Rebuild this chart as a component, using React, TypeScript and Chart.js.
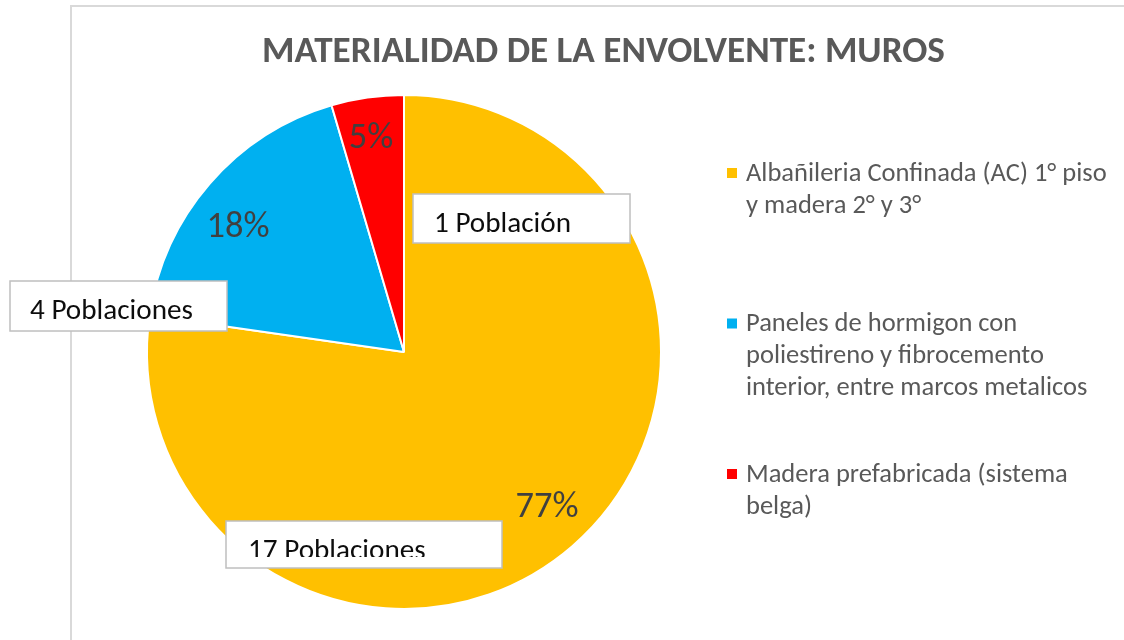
import React, { useEffect, useRef } from "react";
import { Chart, registerables } from "chart.js";
Chart.register(...registerables);

// ---------- data ----------
const TITLE = "MATERIALIDAD DE LA ENVOLVENTE: MUROS";
const categories: string[][] = [
  ["Albañileria Confinada (AC) 1° piso", "y madera 2° y 3°"],
  ["Paneles de hormigon con", "poliestireno y fibrocemento", "interior, entre marcos metalicos"],
  ["Madera prefabricada (sistema", "belga)"],
];
const values = [17, 4, 1];
const unitSingular = "Población";
const unitPlural = "Poblaciones";
const colors = ["#FFC000", "#00B0F0", "#FF0000"];

// ---------- layout ----------
const W = 1124;
const H = 640;
const FONT = "Carlito, Lato, 'Open Sans', sans-serif";
const calloutBoxes = [
  { x: 226, y: 521, w: 276, h: 47, tx: 248 },
  { x: 10, y: 281, w: 217, h: 50, tx: 30 },
  { x: 413, y: 194, w: 217, h: 49, tx: 434 },
];
const pctRadius = [0.816, 0.813, 0.85];
const pctAngleOffsetDeg = [-2.1, -3.5, -0.5];
const textClipBottom = 557;

export default function App() {
  const ref = useRef<HTMLCanvasElement>(null);

  useEffect(() => {
    const canvas = ref.current!;
    const total = values.reduce((a, b) => a + b, 0);

    const fit = (ctx: CanvasRenderingContext2D, text: string, weight: string, target: number) => {
      ctx.font = `${weight} 100px ${FONT}`;
      const w = ctx.measureText(text).width;
      return (100 * target) / w;
    };

    const overlay = {
      id: "overlay",
      beforeDraw(chart: any) {
        const ctx: CanvasRenderingContext2D = chart.ctx;
        ctx.save();
        ctx.fillStyle = "#ffffff";
        ctx.fillRect(0, 0, W, H);
        // frame
        ctx.strokeStyle = "#d9d9d9";
        ctx.lineWidth = 2;
        ctx.beginPath();
        ctx.moveTo(71, H);
        ctx.lineTo(71, 6);
        ctx.lineTo(W, 6);
        ctx.stroke();
        // title
        const ts = fit(ctx, TITLE, "bold", 683);
        ctx.font = `bold ${ts}px ${FONT}`;
        ctx.fillStyle = "#595959";
        ctx.textAlign = "center";
        ctx.textBaseline = "alphabetic";
        ctx.fillText(TITLE, 603.5, 62);
        // legend
        const ls = fit(ctx, categories[0][0], "normal", 361);
        ctx.font = `normal ${ls}px ${FONT}`;
        ctx.textAlign = "left";
        ctx.textBaseline = "middle";
        const labels = chart.data.labels as string[][];
        labels.forEach((lines, i) => {
          const y0 = 173 + i * 150.5;
          ctx.fillStyle = colors[i];
          ctx.fillRect(727, y0 - 5, 10, 10);
          ctx.fillStyle = "#595959";
          lines.forEach((ln, j) => ctx.fillText(ln, 746, y0 + j * 32 + 1));
        });
        ctx.restore();
      },
      afterDatasetsDraw(chart: any) {
        const ctx: CanvasRenderingContext2D = chart.ctx;
        const meta = chart.getDatasetMeta(0);
        ctx.save();
        // percentages
        const ps = fit(ctx, "18%", "normal", 63);
        ctx.font = `normal ${ps}px ${FONT}`;
        ctx.fillStyle = "#404040";
        ctx.textAlign = "center";
        ctx.textBaseline = "alphabetic";
        meta.data.forEach((arc: any, i: number) => {
          const p = arc.getProps(["startAngle", "endAngle", "outerRadius", "x", "y"], true);
          const mid = (p.startAngle + p.endAngle) / 2 + (pctAngleOffsetDeg[i] * Math.PI) / 180;
          const r = p.outerRadius * pctRadius[i];
          const cx = p.x + Math.cos(mid) * r;
          const cy = p.y + Math.sin(mid) * r;
          const pct = Math.round((values[i] / total) * 100) + "%";
          ctx.fillText(pct, cx, cy + ps * 0.32);
        });
        // callouts
        const cs = fit(ctx, `${values[1]} ${unitPlural}`, "normal", 163);
        values.forEach((v, i) => {
          const b = calloutBoxes[i];
          ctx.fillStyle = "#ffffff";
          ctx.fillRect(b.x, b.y, b.w, b.h);
          ctx.strokeStyle = "#bfbfbf";
          ctx.lineWidth = 1.5;
          ctx.strokeRect(b.x, b.y, b.w, b.h);
          ctx.save();
          ctx.beginPath();
          ctx.rect(b.x, b.y, b.w, Math.min(b.h, textClipBottom - b.y));
          ctx.clip();
          ctx.font = `normal ${cs}px ${FONT}`;
          ctx.fillStyle = "#0d0d0d";
          ctx.textAlign = "left";
          ctx.textBaseline = "alphabetic";
          ctx.fillText(`${v} ${v === 1 ? unitSingular : unitPlural}`, b.tx, b.y + 38);
          ctx.restore();
        });
        ctx.restore();
      },
    };

    const chart = new Chart(canvas, {
      type: "pie",
      data: {
        labels: categories as any,
        datasets: [
          {
            data: values,
            backgroundColor: colors,
            borderColor: "#ffffff",
            borderWidth: 2,
          },
        ],
      },
      options: {
        responsive: false,
        animation: false,
        events: [],
        layout: { padding: { left: 146, right: 462, top: 94, bottom: 30 } },
        plugins: {
          legend: { display: false },
          title: { display: false },
          tooltip: { enabled: false },
        },
      },
      plugins: [overlay],
    });
    return () => chart.destroy();
  }, []);

  return (
    <div style={{ position: "fixed", left: 0, top: 0, width: W, height: H, background: "#fff" }}>
      <canvas ref={ref} width={W} height={H} style={{ display: "block", width: W, height: H }} />
    </div>
  );
}
